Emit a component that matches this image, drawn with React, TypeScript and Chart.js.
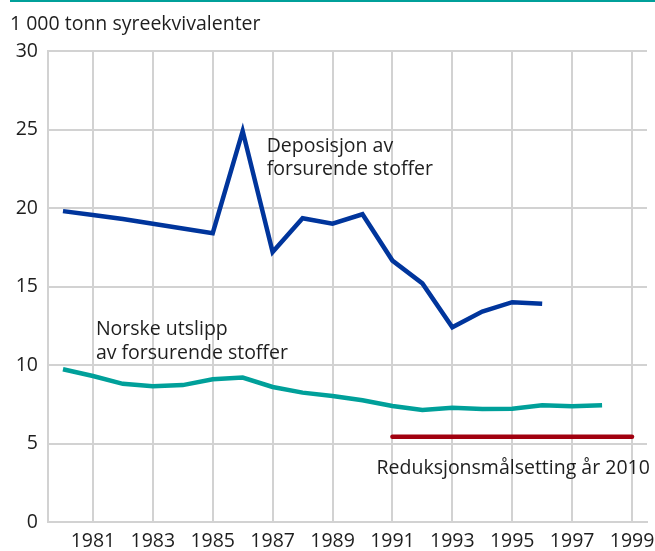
import React, { useEffect, useRef } from 'react';
import { Chart, registerables } from 'chart.js';

Chart.register(...registerables);

const yAxisTitle = '1 000 tonn syreekvivalenter';

const depositionYears = [1980, 1981, 1982, 1983, 1984, 1985, 1986, 1987, 1988, 1989, 1990, 1991, 1992, 1993, 1994, 1995, 1996];
const depositionValues = [19.8, 19.55, 19.3, 19.0, 18.7, 18.4, 24.9, 17.2, 19.35, 19.0, 19.6, 16.65, 15.2, 12.4, 13.4, 14.0, 13.9];

const emissionYears = [1980, 1981, 1982, 1983, 1984, 1985, 1986, 1987, 1988, 1989, 1990, 1991, 1992, 1993, 1994, 1995, 1996, 1997, 1998];
const emissionValues = [9.73, 9.3, 8.8, 8.65, 8.72, 9.09, 9.2, 8.6, 8.24, 8.03, 7.75, 7.39, 7.13, 7.28, 7.19, 7.22, 7.43, 7.37, 7.43];

const targetYears = [1991, 1992, 1993, 1994, 1995, 1996, 1997, 1998, 1999];
const targetValues = [5.43, 5.43, 5.43, 5.43, 5.43, 5.43, 5.43, 5.43, 5.43];

const xTickYears = [1981, 1983, 1985, 1987, 1989, 1991, 1993, 1995, 1997, 1999];
const yTickValues = [0, 5, 10, 15, 20, 25, 30];

const depositionLabel = ['Deposisjon av', 'forsurende stoffer'];
const emissionLabel = ['Norske utslipp', 'av forsurende stoffer'];
const targetLabel = ['Reduksjonsmålsetting år 2010'];

const FONT = "'Open Sans', 'Noto Sans', sans-serif";
const FONT_SIZE = 19.5;
const TEXT = '#1e1e1e';
const GRID = '#d2d2d2';
const BLUE = '#00359c';
const TEAL = '#00a09a';
const RED = '#a1000f';

const toPoints = (xs: number[], ys: number[]) => xs.map((x, i) => ({ x, y: ys[i] }));

export default function App() {
  const ref = useRef<HTMLCanvasElement | null>(null);

  useEffect(() => {
    const canvas = ref.current;
    if (!canvas) return;

    const textPlugin = {
      id: 'texts',
      afterDraw(chart: any) {
        const { ctx, scales } = chart;
        const xs = scales.x;
        const ys = scales.y;
        ctx.save();
        ctx.fillStyle = TEAL;
        ctx.fillRect(10, 0, 645, 2);
        ctx.fillStyle = TEXT;
        ctx.font = `${FONT_SIZE}px ${FONT}`;
        ctx.textAlign = 'left';
        ctx.textBaseline = 'alphabetic';
        ctx.fillText(yAxisTitle, 10, 30);
        const drawLines = (lines: string[], year: number, value: number) => {
          const px = xs.getPixelForValue(year);
          const py = ys.getPixelForValue(value);
          lines.forEach((l, i) => ctx.fillText(l, px, py + i * 23.5));
        };
        drawLines(depositionLabel, 1986.8, 23.59);
        drawLines(emissionLabel, 1981.1, 11.91);
        drawLines(targetLabel, 1990.47, 3.04);
        ctx.restore();
      },
    };

    const chart = new Chart(canvas, {
      type: 'line',
      data: {
        datasets: [
          {
            data: toPoints(depositionYears, depositionValues),
            borderColor: BLUE,
            borderWidth: 4.5,
            pointRadius: 0,
            tension: 0,
          },
          {
            data: toPoints(emissionYears, emissionValues),
            borderColor: TEAL,
            borderWidth: 4.5,
            pointRadius: 0,
            tension: 0,
          },
          {
            data: toPoints(targetYears, targetValues),
            borderColor: RED,
            borderWidth: 4.5,
            pointRadius: 0,
            tension: 0,
            borderCapStyle: 'round',
          },
        ],
      },
      options: {
        animation: false,
        responsive: false,
        devicePixelRatio: 1,
        layout: { padding: { left: 0, right: 8, top: 51, bottom: 0 } },
        plugins: { legend: { display: false }, tooltip: { enabled: false } },
        scales: {
          x: {
            type: 'linear',
            min: 1979.5,
            max: 1999.5,
            afterBuildTicks: (scale: any) => {
              scale.ticks = xTickYears.map((v) => ({ value: v }));
            },
            afterFit: (scale: any) => {
              scale.height = 29;
              scale.paddingLeft = 0;
              scale.paddingRight = 0;
            },
            grid: { color: GRID, lineWidth: 2, drawTicks: false },
            border: { display: true, color: GRID, width: 2 },
            ticks: {
              color: TEXT,
              font: { family: FONT, size: FONT_SIZE },
              padding: 8,
              maxRotation: 0,
              autoSkip: false,
              callback: (v: any) => String(v),
            },
          },
          y: {
            min: 0,
            max: 30,
            afterBuildTicks: (scale: any) => {
              scale.ticks = yTickValues.map((v) => ({ value: v }));
            },
            afterFit: (scale: any) => {
              scale.width = 48;
              scale.paddingTop = 0;
              scale.paddingBottom = 0;
            },
            grid: { color: GRID, lineWidth: 2, drawTicks: false },
            border: { display: true, color: GRID, width: 2 },
            ticks: {
              color: TEXT,
              font: { family: FONT, size: FONT_SIZE },
              padding: 10,
              callback: (v: any) => String(v),
            },
          },
        },
      },
      plugins: [textPlugin],
    } as any);

    return () => chart.destroy();
  }, []);

  return (
    <div style={{ position: 'absolute', left: 0, top: 0, width: 655, height: 551, background: '#fff' }}>
      <canvas ref={ref} width={655} height={551} style={{ display: 'block', width: 655, height: 551 }} />
    </div>
  );
}
